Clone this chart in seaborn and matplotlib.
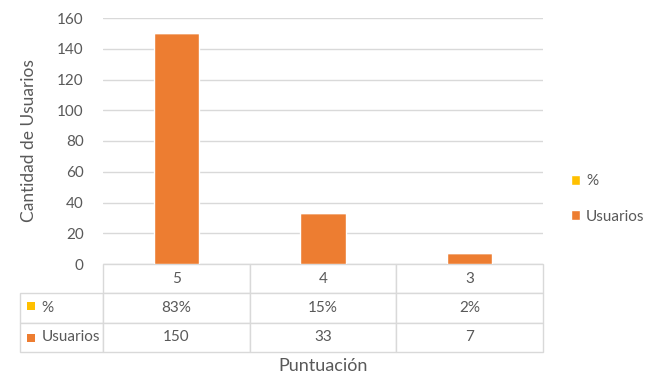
import matplotlib
matplotlib.use('Agg')
import matplotlib.pyplot as plt
from matplotlib.patches import Patch, Rectangle
import pandas as pd
import seaborn as sns

puntuacion = ['5', '4', '3']
usuarios = [150, 33, 7]
porcentaje = [0.83, 0.15, 0.02]
porcentaje_txt = ['83%', '15%', '2%']

naranja = '#ED7D31'
amarillo = '#FFC000'
gris = '#595959'
linea = '#D9D9D9'

sns.set_style('white')
plt.rcParams['font.family'] = ['Lato', 'DejaVu Sans']

df = pd.DataFrame({'Puntuacion': puntuacion, 'Usuarios': usuarios, 'Pct': porcentaje})

fig = plt.figure(figsize=(6.46, 3.77), dpi=100)
ax = fig.add_axes([103 / 646, 1 - 264 / 377, 440 / 646, 246 / 377])

sns.barplot(data=df, x='Puntuacion', y='Usuarios', order=puntuacion,
            color=naranja, width=0.31, saturation=1, ax=ax, zorder=3)
sns.barplot(data=df, x='Puntuacion', y='Pct', order=puntuacion,
            color=amarillo, width=0.31, saturation=1, ax=ax, zorder=3,
            bottom=df['Usuarios'].values)

ax.set_ylim(0, 160)
ax.set_yticks(range(0, 161, 20))
ax.yaxis.grid(True, color=linea, linewidth=1, zorder=0)
ax.set_xlim(-0.5, 2.5)
ax.set_xticks([])
ax.set_xlabel('')
ax.set_ylabel('Cantidad de Usuarios', fontsize=12.5, color=gris, labelpad=14)
ax.tick_params(axis='y', length=0, pad=14, labelsize=11, labelcolor=gris)
for s in ax.spines.values():
    s.set_visible(False)

# tabla de datos debajo del gráfico
celdas = [[''] + puntuacion,
          ['%'] + porcentaje_txt,
          ['Usuarios'] + [str(u) for u in usuarios]]
x0 = (20 - 103) / 440
alto = 88 / 246
tabla = ax.table(cellText=celdas, cellLoc='center',
                 colWidths=[83 / 523] + [146.67 / 523] * 3,
                 bbox=[x0, -alto, 1 - x0, alto])
tabla.auto_set_font_size(False)
for (r, c), cell in tabla.get_celld().items():
    cell.set_edgecolor(linea)
    cell.set_linewidth(1)
    cell.get_text().set_fontsize(11)
    cell.get_text().set_color(gris)
    if c == 0:
        cell.get_text().set_horizontalalignment('left')
        cell._loc = 'left'
        cell.PAD = 0.26
    if r == 0 and c == 0:
        cell.visible_edges = ''

# cuadritos de leyenda en la tabla
for yc, col in [(306, amarillo), (338, naranja)]:
    ax.add_patch(Rectangle(((27 - 103) / 440, (264 - yc - 4) / 246), 8 / 440, 8 / 246,
                           transform=ax.transAxes, facecolor=col, edgecolor='none',
                           clip_on=False))

ax.text(0.5, (264 - 366) / 246, 'Puntuación', transform=ax.transAxes,
        ha='center', va='center', fontsize=13, color=gris)

handles = [Patch(facecolor=amarillo, label='%'), Patch(facecolor=naranja, label='Usuarios')]
fig.legend(handles=handles, loc='center left', bbox_to_anchor=(557 / 646, 1 - 199 / 377),
           frameon=False, fontsize=11, handlelength=0.6, handleheight=0.6,
           handletextpad=0.4, labelspacing=1.4, labelcolor=gris)

fig.savefig('out.png', dpi=100, facecolor='white')
